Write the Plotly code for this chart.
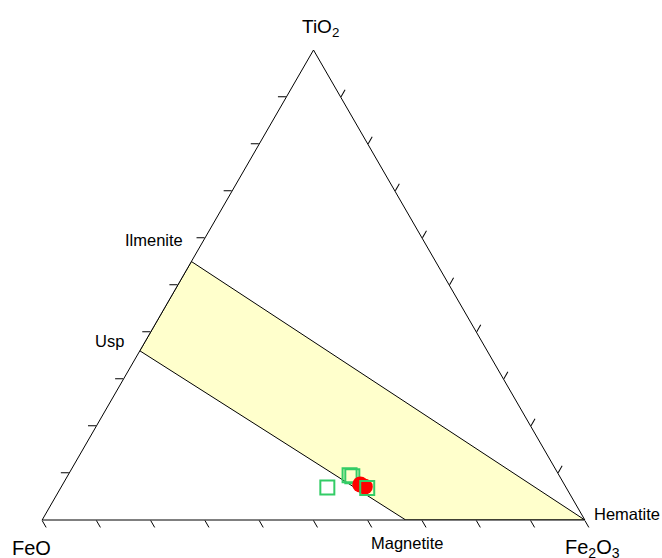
import plotly.graph_objects as go

# Compositions in percent: TiO2 (top), FeO (bottom-left), Fe2O3 (bottom-right)
band_names = ["Ilmenite", "Hematite", "Magnetite", "Usp"]
band_tio2 = [55.0, 0.0, 0.0, 36.0]
band_feo = [45.0, 0.0, 33.0, 64.0]
band_fe2o3 = [0.0, 100.0, 67.0, 0.0]

sq1_tio2 = [6.9, 9.3, 9.5]
sq1_feo = [44.0, 38.2, 38.6]
sq1_fe2o3 = [49.1, 52.5, 51.9]

red_tio2 = [7.55, 7.1]
red_feo = [37.6, 37.0]
red_fe2o3 = [54.85, 55.9]

sq2_tio2 = [6.8]
sq2_feo = [36.7]
sq2_fe2o3 = [56.5]

side_ticks = [10, 20, 30, 40, 50, 60, 70, 80, 90]
bottom_ticks = [0, 10, 20, 30, 40, 50, 60, 70, 80, 90, 100]

W, H = 662, 558
ML, MR, MT, MB = 42, 77, 50, 38
PW, PH = W - ML - MR, H - MT - MB

def px(x):
    return (x - ML) / PW

def py(y):
    return (H - MB - y) / PH

green = "#33CC66"

fig = go.Figure()
fig.add_trace(go.Scatterternary(
    a=band_tio2 + [band_tio2[0]], b=band_feo + [band_feo[0]], c=band_fe2o3 + [band_fe2o3[0]],
    mode="lines", fill="toself", fillcolor="#FFFFCC",
    line=dict(color="black", width=1), hoverinfo="skip", showlegend=False))
fig.add_trace(go.Scatterternary(
    a=sq1_tio2, b=sq1_feo, c=sq1_fe2o3, mode="markers",
    marker=dict(symbol="square-open", size=14, color=green, line=dict(width=2, color=green)),
    showlegend=False))
fig.add_trace(go.Scatterternary(
    a=red_tio2, b=red_feo, c=red_fe2o3, mode="markers",
    marker=dict(symbol="circle", size=16, color="red", line=dict(width=0)),
    showlegend=False))
fig.add_trace(go.Scatterternary(
    a=sq2_tio2, b=sq2_feo, c=sq2_fe2o3, mode="markers",
    marker=dict(symbol="square-open", size=14, color=green, line=dict(width=2, color=green)),
    showlegend=False))

axis_common = dict(showgrid=False, showticklabels=False, ticks="outside", ticklen=8,
                   tickcolor="black", linecolor="black", linewidth=1, title=dict(text=""),
                   tickmode="array", min=0)
fig.update_layout(
    width=W, height=H,
    margin=dict(l=ML, r=MR, t=MT, b=MB, pad=0),
    paper_bgcolor="white",
    font=dict(family="Liberation Sans, Arial, sans-serif", color="black"),
    ternary=dict(
        sum=100, bgcolor="white",
        domain=dict(x=[0, 1], y=[0, 1]),
        aaxis=dict(axis_common, tickvals=side_ticks),
        baxis=dict(axis_common, tickvals=bottom_ticks),
        caxis=dict(axis_common, tickvals=side_ticks),
    ),
)

ann = [
    ("TiO<sub>2</sub>", 320, 28, 19, "center"),
    ("FeO", 31, 548, 20, "center"),
    ("Fe<sub>2</sub>O<sub>3</sub>", 592, 548, 20, "center"),
    ("Ilmenite", 185, 240, 16.5, "right"),
    ("Usp", 126, 341, 16.5, "right"),
    ("Hematite", 592, 514, 16.5, "left"),
    ("Magnetite", 407, 543, 16.5, "center"),
]
for text, x, y, size, align in ann:
    fig.add_annotation(text=text, x=px(x), y=py(y), xref="paper", yref="paper",
                       xanchor=align, yanchor="middle", showarrow=False,
                       font=dict(size=size, color="black"))

fig.write_html("out.html", config={"displayModeBar": False},
               post_script="document.body.style.margin='0';document.body.style.overflow='hidden';")
